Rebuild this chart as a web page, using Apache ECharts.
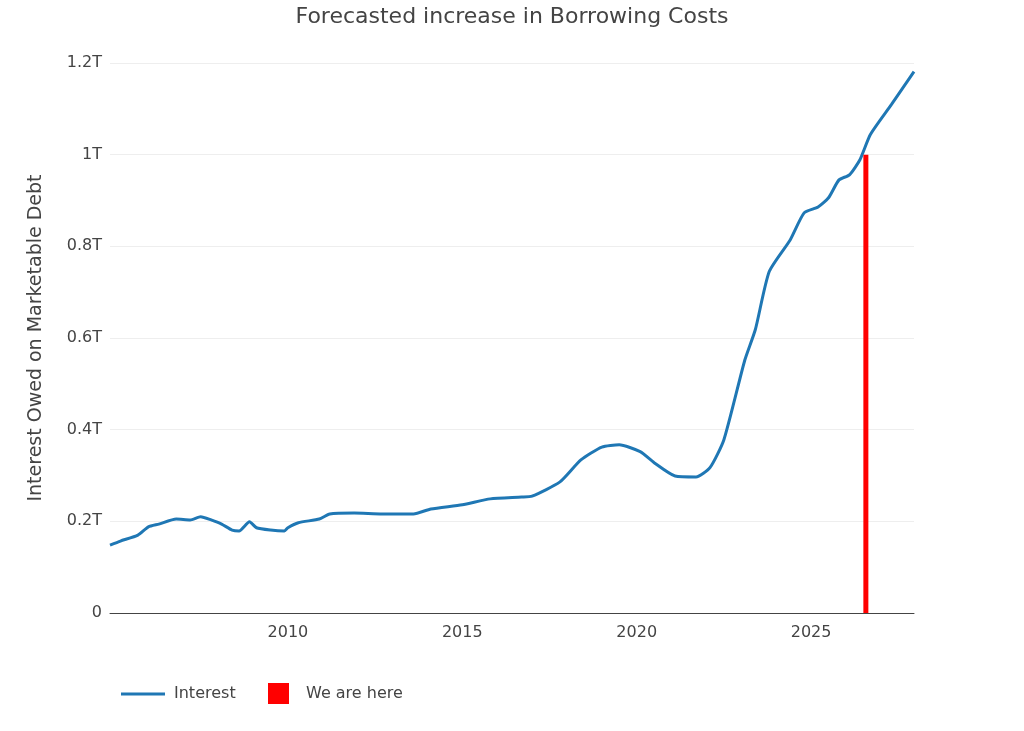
<!DOCTYPE html>
<html>
<head>
<meta charset="utf-8">
<script src="https://cdn.jsdelivr.net/npm/echarts@6/dist/echarts.min.js"></script>
<style>html,body{margin:0;padding:0;background:#fff}#grafica{width:1024px;height:731px}</style>
</head>
<body>
<div id="grafica"></div>
<script>
// years (decimal) and interest owed, in trillions
const years = [2004.9, 2005.2, 2005.7, 2006.0, 2006.3, 2006.8, 2007.2, 2007.5, 2007.8, 2008.1,
  2008.4, 2008.6, 2008.9, 2009.1, 2009.5, 2009.9, 2010.0, 2010.3, 2010.9, 2011.2, 2011.9,
  2012.7, 2013.6, 2014.1, 2015.0, 2015.8, 2016.7, 2017.0, 2017.8, 2018.4, 2019.0, 2019.5,
  2020.1, 2020.5, 2021.1, 2021.7, 2022.1, 2022.5, 2023.1, 2023.4, 2023.8, 2024.4, 2024.8,
  2025.2, 2025.5, 2025.8, 2026.1, 2026.4, 2026.7, 2027.3, 2027.95];
const interest = [0.148, 0.157, 0.170, 0.188, 0.194, 0.205, 0.203, 0.210, 0.203, 0.194,
  0.181, 0.179, 0.199, 0.186, 0.181, 0.179, 0.186, 0.197, 0.205, 0.216, 0.218,
  0.216, 0.216, 0.227, 0.236, 0.249, 0.253, 0.255, 0.286, 0.334, 0.362, 0.367,
  0.352, 0.328, 0.299, 0.297, 0.317, 0.378, 0.552, 0.618, 0.745, 0.814, 0.873,
  0.886, 0.906, 0.945, 0.956, 0.989, 1.044, 1.109, 1.181];
const hereYear = 2026.57;
const hereValue = 1.0;
const xTicks = [2010, 2015, 2020, 2025];

const font = "DejaVu Sans";

const option = {
  animation: false,
  title: {
    text: "Forecasted increase in Borrowing Costs",
    left: "center",
    top: 1,
    textStyle: { color: "#444", fontWeight: "normal", fontSize: 22, fontFamily: font },
  },
  grid: { left: 110, right: 110, top: 63, bottom: 118 },
  legend: [
    {
      left: 116, top: 681, itemWidth: 44, itemHeight: 3,
      textStyle: { fontSize: 16, color: "#444", fontFamily: font, padding: [0, 0, 0, 4] },
      data: [{ name: "Interest", icon: "rect" }],
    },
    {
      left: 263, top: 678, itemWidth: 21, itemHeight: 21,
      textStyle: { fontSize: 16, color: "#444", fontFamily: font, padding: [0, 0, 0, 12] },
      data: [{ name: "We are here", icon: "rect" }],
    },
  ],
  xAxis: {
    type: "value",
    min: 2004.9,
    max: 2027.95,
    axisLine: { lineStyle: { color: "#444" } },
    axisTick: { show: false },
    splitLine: { show: false },
    axisLabel: {
      customValues: xTicks, fontSize: 16, color: "#444", fontFamily: font, margin: 12,
      formatter: (v) => String(v),
    },
  },
  yAxis: {
    type: "value",
    min: 0,
    max: 1.2,
    interval: 0.2,
    name: "Interest Owed on Marketable Debt",
    nameLocation: "middle",
    nameGap: 64,
    nameTextStyle: { fontSize: 19, color: "#444", fontFamily: font },
    axisLine: { show: false },
    axisTick: { show: false },
    splitLine: { lineStyle: { color: "#eee" } },
    axisLabel: {
      fontSize: 16, color: "#444", fontFamily: font, margin: 8,
      formatter: (v) => (v === 0 ? "0" : +v.toFixed(1) + "T"),
    },
  },
  series: [
    {
      name: "Interest",
      type: "line",
      data: years.map((y, i) => [y, interest[i]]),
      showSymbol: false,
      smooth: 0.2,
      lineStyle: { color: "#1f77b4", width: 3 },
      itemStyle: { color: "#1f77b4" },
    },
    {
      name: "We are here",
      type: "line",
      data: [[hereYear, 0], [hereYear, hereValue]],
      showSymbol: false,
      lineStyle: { color: "red", width: 5 },
      itemStyle: { color: "red" },
    },
  ],
};

const myChart = echarts.init(document.querySelector("#grafica"));
myChart.setOption(option);
</script>
</body>
</html>
